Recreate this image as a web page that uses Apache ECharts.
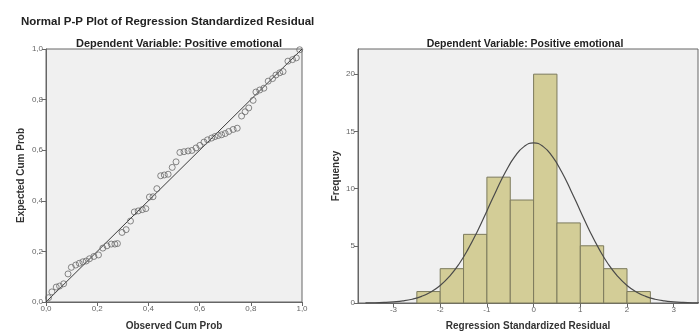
<!DOCTYPE html>
<html>
<head>
<meta charset="utf-8">
<script src="https://cdn.jsdelivr.net/npm/echarts@6/dist/echarts.min.js"></script>
<style>
html,body{margin:0;padding:0;background:#fff;}
#c{width:699px;height:336px;}
</style>
</head>
<body>
<div id="c"></div>
<script>
// P-P plot data
var observedCumProb = [0.010,0.023,0.040,0.053,0.069,0.086,0.099,0.116,0.130,0.144,0.157,0.170,0.187,0.205,0.222,0.238,0.255,0.269,0.279,0.297,0.313,0.330,0.345,0.360,0.376,0.390,0.404,0.418,0.433,
  0.448,0.462,0.477,0.493,0.508,0.523,0.539,0.555,0.570,0.586,0.601,0.617,0.631,0.647,0.660,0.673,0.686,0.700,0.714,0.731,0.747,0.764,0.778,0.792,0.809,0.820,0.835,0.851,0.868,0.885,0.898,0.913,0.926,0.945,0.963,0.978,0.991];
var expectedCumProb = [0.017,0.040,0.059,0.063,0.072,0.111,0.137,0.146,0.153,0.159,0.162,0.171,0.180,0.186,0.213,0.222,0.229,0.229,0.231,0.275,0.286,0.320,0.356,0.360,0.365,0.369,0.415,0.416,0.448,
  0.499,0.502,0.505,0.532,0.554,0.591,0.594,0.597,0.599,0.609,0.619,0.632,0.641,0.648,0.654,0.658,0.661,0.666,0.674,0.682,0.687,0.735,0.752,0.767,0.797,0.830,0.838,0.845,0.873,0.883,0.897,0.906,0.911,0.952,0.958,0.965,0.997];
var ppTicks = [0,0.2,0.4,0.6,0.8,1.0];

// Histogram data
var binLow  = [-2.5,-2.0,-1.5,-1.0,-0.5,0.0,0.5,1.0,1.5,2.0];
var binHigh = [-2.0,-1.5,-1.0,-0.5,0.0,0.5,1.0,1.5,2.0,2.5];
var frequency = [1,3,6,11,9,20,7,5,3,1];
var histXTicks = [-3,-2,-1,0,1,2,3];
var histYTicks = [0,5,10,15,20];
// Normal curve
var curveX = [-3.6,-3.4,-3.2,-3.0,-2.8,-2.6,-2.4,-2.2,-2.0,-1.8,-1.6,-1.4,-1.2,-1.0,-0.8,-0.6,-0.4,-0.2,0,0.2,0.4,0.6,0.8,1.0,1.2,1.4,1.6,1.8,2.0,2.2,2.4,2.6,2.8,3.0,3.2,3.4,3.6];
var curveY = [0.01,0.02,0.05,0.10,0.18,0.33,0.58,0.96,1.53,2.33,3.39,4.73,6.30,8.05,9.82,11.47,12.81,13.69,14.0,13.69,12.81,11.47,9.82,8.05,6.30,4.73,3.39,2.33,1.53,0.96,0.58,0.33,0.18,0.10,0.05,0.02,0.01];

var mainTitle = 'Normal P-P Plot of Regression Standardized Residual';
var subTitle = 'Dependent Variable: Positive emotional';

var ppData = observedCumProb.map(function(x,i){return [x, expectedCumProb[i]];});
var histData = frequency.map(function(f,i){return [binLow[i], binHigh[i], f];});
var curveData = curveX.map(function(x,i){return [x, curveY[i]];});

var FONT = 'Liberation Sans, Arial, sans-serif';
var chart = echarts.init(document.getElementById('c'), null, {renderer:'canvas'});
var fmtComma = function(v){ return v.toFixed(1).replace('.', ','); };
var tickLabel = {fontSize:8, color:'#666', fontFamily:FONT, margin:3};
var axisLine = {show:true, onZero:false, lineStyle:{color:'#666', width:1}};
var axisTick = {show:true, length:4, lineStyle:{color:'#666'}};
var nameStyle = {fontSize:10, fontWeight:'bold', color:'#333', fontFamily:FONT};

chart.setOption({
  animation:false,
  backgroundColor:'#fff',
  title:[
    {text:mainTitle, left:16, top:11, textStyle:{fontSize:11.5, fontWeight:'bold', color:'#222', fontFamily:FONT}},
    {text:subTitle, left:174, top:33, textAlign:'center', textStyle:{fontSize:11, fontWeight:'bold', color:'#222', fontFamily:FONT}},
    {text:subTitle, left:520, top:34, textAlign:'center', textStyle:{fontSize:10.5, fontWeight:'bold', color:'#222', fontFamily:FONT}}
  ],
  grid:[
    {left:46, top:49, width:256, height:256, show:true, backgroundColor:'#f0f0f0', borderColor:'#666', borderWidth:1},
    {left:358, top:49, width:340, height:258, show:true, backgroundColor:'#f0f0f0', borderColor:'#666', borderWidth:1}
  ],
  xAxis:[
    {gridIndex:0, type:'value', min:0, max:1, interval:0.2,
     name:'Observed Cum Prob', nameLocation:'middle', nameGap:19, nameTextStyle:nameStyle,
     axisLine:axisLine, axisTick:axisTick, splitLine:{show:false},
     axisLabel:Object.assign({formatter:fmtComma}, tickLabel)},
    {gridIndex:1, type:'value', min:-3.76, max:3.52,
     name:'Regression Standardized Residual', nameLocation:'middle', nameGap:18, nameTextStyle:nameStyle,
     axisLine:axisLine, axisTick:Object.assign({customValues:histXTicks}, axisTick), splitLine:{show:false},
     axisLabel:Object.assign({customValues:histXTicks}, tickLabel)}
  ],
  yAxis:[
    {gridIndex:0, type:'value', min:0, max:1, interval:0.2,
     name:'Expected Cum Prob', nameLocation:'middle', nameGap:20, nameTextStyle:nameStyle,
     axisLine:axisLine, axisTick:axisTick, splitLine:{show:false},
     axisLabel:Object.assign({formatter:fmtComma}, tickLabel)},
    {gridIndex:1, type:'value', min:0, max:22.2,
     name:'Frequency', nameLocation:'middle', nameGap:17, nameTextStyle:nameStyle,
     axisLine:axisLine, axisTick:Object.assign({customValues:histYTicks}, axisTick), splitLine:{show:false},
     axisLabel:Object.assign({customValues:histYTicks}, tickLabel)}
  ],
  series:[
    {type:'line', xAxisIndex:0, yAxisIndex:0, data:[[0,0],[1,1]], symbol:'none',
     lineStyle:{color:'#3a3a3a', width:1}, z:3},
    {type:'scatter', xAxisIndex:0, yAxisIndex:0, data:ppData, symbol:'circle', symbolSize:6,
     itemStyle:{color:'rgba(0,0,0,0)', borderColor:'#6a6a6a', borderWidth:1}, z:4},
    {type:'custom', xAxisIndex:1, yAxisIndex:1, data:histData,
     encode:{x:[0,1], y:2},
     renderItem:function(params, api){
       var p0 = api.coord([api.value(0), api.value(2)]);
       var p1 = api.coord([api.value(1), 0]);
       return {type:'rect', shape:{x:p0[0], y:p0[1], width:p1[0]-p0[0], height:p1[1]-p0[1]},
               style:{fill:'#d3cd97', stroke:'#7c7a5c', lineWidth:1}};
     }, z:2},
    {type:'line', xAxisIndex:1, yAxisIndex:1, data:curveData, symbol:'none', smooth:true,
     lineStyle:{color:'#4a4a4a', width:1.2}, z:5, clip:true}
  ]
});
</script>
</body>
</html>
